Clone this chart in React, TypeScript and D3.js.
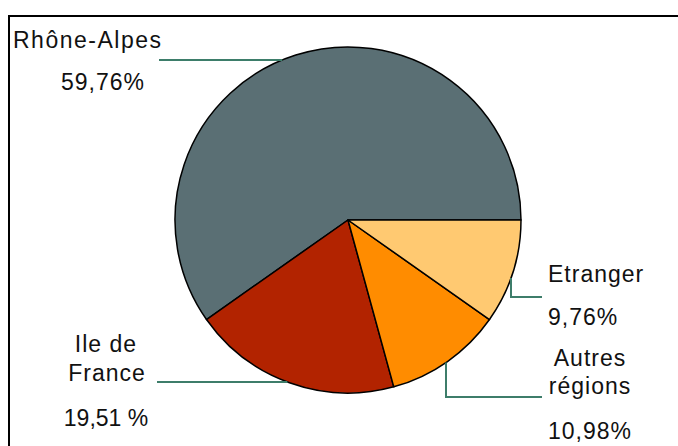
import React from "react";
import * as d3 from "d3";

const categories = ["Rhône-Alpes", "Ile de France", "Autres régions", "Etranger"];
const values = [59.76, 19.51, 10.98, 9.76];
const valueLabels = ["59,76%", "19,51 %", "10,98%", "9,76%"];
const colors = ["#5a6f74", "#b22300", "#ff8c00", "#ffc971"];

const W = 678;
const H = 446;
const CX = 348;
const CY = 220;
const R = 173;
const LEADER = "#3d7d6a";
const FONT = "'Liberation Sans', Arial, sans-serif";

type Layout = {
  lines: { text: string; x: number; y: number; anchor: string; ls?: number }[];
  leader: (edge: (axis: "x" | "y", v: number, side: number) => number) => [number, number][];
};

export default function App() {
  const pie = d3
    .pie<number>()
    .sort(null)
    .value((d) => d)
    .startAngle(Math.PI / 2)
    .endAngle(Math.PI / 2 - 2 * Math.PI);
  const arcs = pie(values);
  const arc = d3.arc<d3.PieArcDatum<number>>().innerRadius(0).outerRadius(R);

  const edge = (axis: "x" | "y", v: number, side: number) => {
    if (axis === "y") return CX + side * Math.sqrt(R * R - (v - CY) ** 2);
    return CY + side * Math.sqrt(R * R - (v - CX) ** 2);
  };

  const layouts: Layout[] = [
    {
      lines: [
        { text: categories[0], x: 13, y: 48, anchor: "start", ls: 1.5 },
        { text: valueLabels[0], x: 103, y: 90, anchor: "middle" },
      ],
      leader: (e) => [
        [159, 60],
        [e("y", 60, -1), 60],
      ],
    },
    {
      lines: [
        { text: "Ile de", x: 106, y: 352, anchor: "middle" },
        { text: "France", x: 107, y: 381, anchor: "middle" },
        { text: valueLabels[1], x: 106, y: 426, anchor: "middle", ls: 0 },
      ],
      leader: (e) => [
        [157, 382],
        [e("y", 382, -1), 382],
      ],
    },
    {
      lines: [
        { text: "Autres", x: 590, y: 366, anchor: "middle" },
        { text: "régions", x: 590, y: 394, anchor: "middle" },
        { text: valueLabels[2], x: 548, y: 439, anchor: "start" },
      ],
      leader: (e) => [
        [446, e("x", 446, 1)],
        [446, 397],
        [542, 397],
      ],
    },
    {
      lines: [
        { text: "Etranger", x: 548, y: 282, anchor: "start" },
        { text: valueLabels[3], x: 548, y: 325, anchor: "start" },
      ],
      leader: (e) => [
        [511, e("x", 511, 1)],
        [511, 297],
        [542, 297],
      ],
    },
  ];

  const line = d3.line<[number, number]>();

  return (
    <svg
      width={W}
      height={H}
      style={{ position: "absolute", left: 0, top: 0, background: "#fff" }}
    >
      <rect x={0} y={0} width={W} height={H} fill="#fff" />
      <line x1={9} y1={16} x2={W} y2={16} stroke="#000" strokeWidth={2} />
      <line x1={9} y1={15} x2={9} y2={H} stroke="#000" strokeWidth={2} />
      <g transform={`translate(${CX},${CY})`}>
        {arcs.map((a, i) => (
          <path
            key={i}
            d={arc(a) || ""}
            fill={colors[i]}
            stroke="#000"
            strokeWidth={1.5}
            strokeLinejoin="round"
          />
        ))}
      </g>
      {layouts.map((l, i) => (
        <g key={i}>
          <path d={line(l.leader(edge)) || ""} fill="none" stroke={LEADER} strokeWidth={2} />
          {l.lines.map((t, j) => (
            <text
              key={j}
              x={t.x}
              y={t.y}
              textAnchor={t.anchor as any}
              fontFamily={FONT}
              fontSize={23}
              letterSpacing={t.ls ?? 1}
              fill="#111"
            >
              {t.text}
            </text>
          ))}
        </g>
      ))}
    </svg>
  );
}
